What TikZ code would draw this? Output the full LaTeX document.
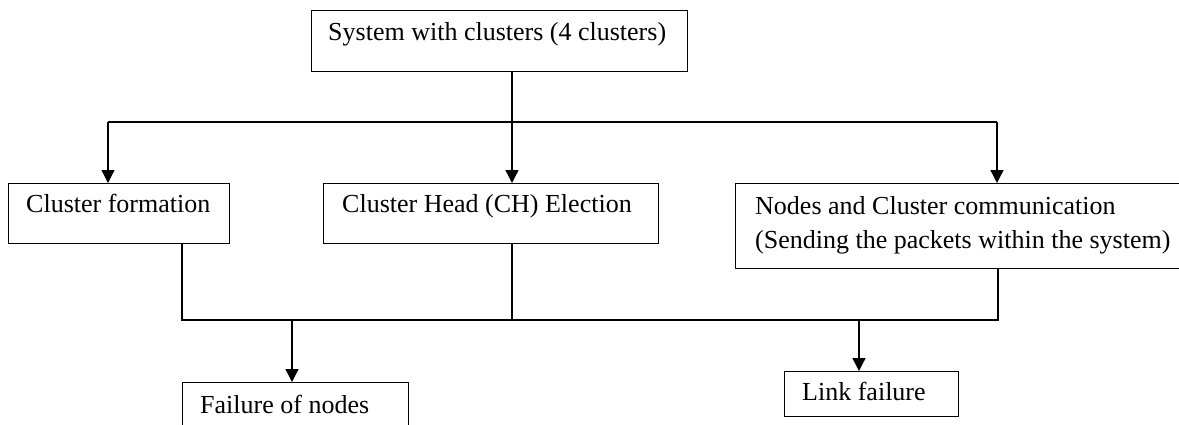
\documentclass[tikz,border=0pt]{standalone}
\usepackage{fontspec}
\setmainfont{Liberation Serif}
\usetikzlibrary{arrows.meta}
\begin{document}
\begin{tikzpicture}[x=1pt,y=-1pt,
  box/.style={draw, line width=1.3pt, rectangle, inner sep=0pt, anchor=north west},
  txt/.style={font=\fontsize{26}{34}\selectfont, inner sep=0pt, anchor=base west, label distance=0pt},
  wire/.style={line width=1.3pt},
  arr/.style={wire, -{Triangle[length=13pt,width=13pt]}}]
\useasboundingbox (0,0) rectangle (1179,424);

% boxes, each with its text hung from the top left corner
\node[box, minimum width=376pt, minimum height=61pt,
  label={[txt, xshift=17pt, yshift=-30pt]north west:System with clusters (4 clusters)}] (sys) at (311,10) {};
\node[box, minimum width=221pt, minimum height=60pt,
  label={[txt, xshift=18pt, yshift=-29pt]north west:Cluster formation}] (cf) at (8,183) {};
\node[box, minimum width=335pt, minimum height=60pt,
  label={[txt, xshift=19pt, yshift=-29pt]north west:Cluster Head (CH) Election}] (ch) at (323,183) {};
% two-line text: the base anchor sits on the last line
\node[box, minimum width=460pt, minimum height=85pt,
  label={[txt, align=left, xshift=20pt, yshift=-65pt]north west:Nodes and Cluster communication\\(Sending the packets within the system)}] (nc) at (735,183) {};
\node[box, minimum width=226pt, minimum height=60pt,
  label={[txt, xshift=18pt, yshift=-31pt]north west:Failure of nodes}] (fn) at (182,382) {};
\node[box, minimum width=174pt, minimum height=45pt,
  label={[txt, xshift=18pt, yshift=-29pt]north west:Link failure}] (lf) at (784,371) {};

% upper bus
\coordinate (busL) at (108,122);
\coordinate (busM) at (512,122);
\coordinate (busR) at (997,122);
\draw[wire] (sys.south -| busM) -- (busM);
\draw[wire] (busL) -- (busR);
\draw[arr] (busL) -- (cf.north -| busL);
\draw[arr] (busM) -- (ch.north -| busM);
\draw[arr] (busR) -- (nc.north -| busR);

% lower bus
\coordinate (jL) at (182,320);
\coordinate (jM) at (512,320);
\coordinate (jR) at (998,320);
\coordinate (jA) at (292,320);
\coordinate (jB) at (859,320);
\draw[wire] (cf.south -| jL) -- (jL) -- (jR) -- (nc.south -| jR);
\draw[wire] (ch.south -| jM) -- (jM);
\draw[arr] (jA) -- (fn.north -| jA);
\draw[arr] (jB) -- (lf.north -| jB);
\end{tikzpicture}
\end{document}
